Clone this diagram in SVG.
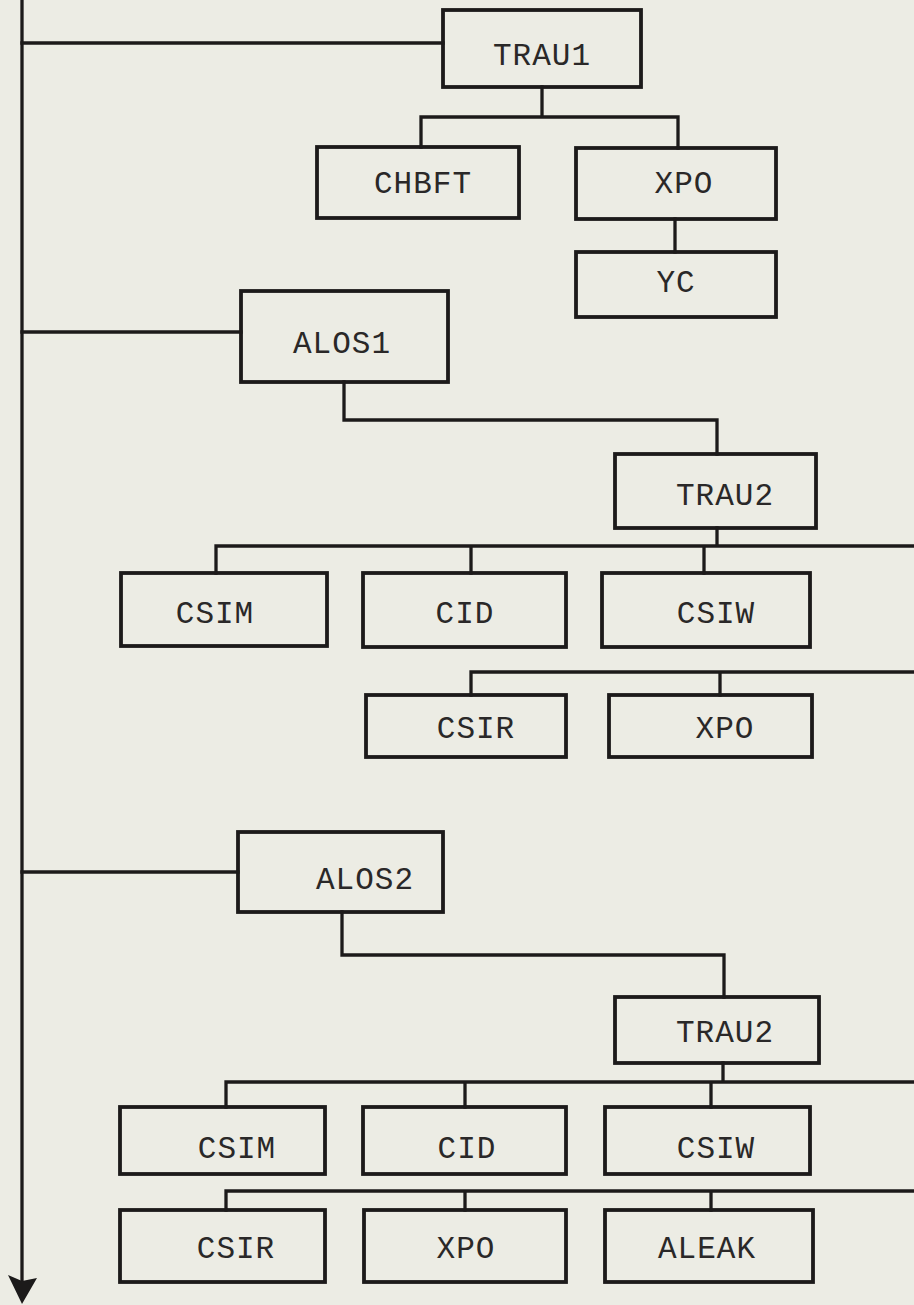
<svg xmlns="http://www.w3.org/2000/svg" width="914" height="1305" viewBox="0 0 914 1305">
<style>
.box{fill:none;stroke:#1c1a1a;stroke-width:3.8}
.ln{fill:none;stroke:#1c1a1a;stroke-width:3.3;stroke-linecap:square}
.t{font-family:"Liberation Mono","DejaVu Sans Mono",monospace;font-size:31px;fill:#2a2828;text-anchor:middle;letter-spacing:1px}
</style>
<rect x="0" y="0" width="914" height="1305" fill="#ecece4"/>
<g id="connectors">
<path class="ln" d="M22,0 V1282"/>
<path d="M8,1275 L22,1281 L37,1278 L22,1304 Z" fill="#1c1a1a"/>
<path class="ln" d="M22,43 H443"/>
<path class="ln" d="M542,87 V117 M421,117 H678 M421,117 V147 M678,117 V148"/>
<path class="ln" d="M675,219 V252"/>
<path class="ln" d="M22,332 H241"/>
<path class="ln" d="M344,382 V420 H717 V454"/>
<path class="ln" d="M717,528 V546 M216,546 H914 M216,546 V573 M471,546 V573 M704,546 V573"/>
<path class="ln" d="M471,672 H914 M471,672 V695 M720,672 V695"/>
<path class="ln" d="M22,872 H238"/>
<path class="ln" d="M342,912 V955 H724 V997"/>
<path class="ln" d="M723,1063 V1082 M226,1082 H914 M226,1082 V1107 M465,1082 V1107 M711,1082 V1107"/>
<path class="ln" d="M226,1191 H914 M226,1191 V1210 M465,1191 V1210 M711,1191 V1210"/>
</g>
<g id="n-trau1"><rect class="box" x="443" y="10" width="198" height="77"/><text class="t" x="542" y="65">TRAU1</text></g>
<g id="n-chbft"><rect class="box" x="317" y="147" width="202" height="71"/><text class="t" x="423" y="193">CHBFT</text></g>
<g id="n-xpo1"><rect class="box" x="576" y="148" width="200" height="71"/><text class="t" x="684" y="193">XPO</text></g>
<g id="n-yc"><rect class="box" x="576" y="252" width="200" height="65"/><text class="t" x="676" y="292">YC</text></g>
<g id="n-alos1"><rect class="box" x="241" y="291" width="207" height="91"/><text class="t" x="342" y="353">ALOS1</text></g>
<g id="n-trau2a"><rect class="box" x="615" y="454" width="201" height="74"/><text class="t" x="725" y="505">TRAU2</text></g>
<g id="n-csim1"><rect class="box" x="121" y="573" width="206" height="73"/><text class="t" x="215" y="623">CSIM</text></g>
<g id="n-cid1"><rect class="box" x="363" y="573" width="203" height="74"/><text class="t" x="465" y="623">CID</text></g>
<g id="n-csiw1"><rect class="box" x="602" y="573" width="208" height="74"/><text class="t" x="716" y="623">CSIW</text></g>
<g id="n-csir1"><rect class="box" x="366" y="695" width="200" height="62"/><text class="t" x="476" y="738">CSIR</text></g>
<g id="n-xpo2"><rect class="box" x="609" y="695" width="203" height="62"/><text class="t" x="725" y="738">XPO</text></g>
<g id="n-alos2"><rect class="box" x="238" y="832" width="205" height="80"/><text class="t" x="365" y="889">ALOS2</text></g>
<g id="n-trau2b"><rect class="box" x="615" y="997" width="204" height="66"/><text class="t" x="725" y="1042">TRAU2</text></g>
<g id="n-csim2"><rect class="box" x="120" y="1107" width="205" height="67"/><text class="t" x="237" y="1158">CSIM</text></g>
<g id="n-cid2"><rect class="box" x="363" y="1107" width="203" height="67"/><text class="t" x="467" y="1158">CID</text></g>
<g id="n-csiw2"><rect class="box" x="605" y="1107" width="205" height="67"/><text class="t" x="716" y="1158">CSIW</text></g>
<g id="n-csir2"><rect class="box" x="120" y="1210" width="205" height="72"/><text class="t" x="236" y="1258">CSIR</text></g>
<g id="n-xpo3"><rect class="box" x="364" y="1210" width="202" height="72"/><text class="t" x="466" y="1258">XPO</text></g>
<g id="n-aleak"><rect class="box" x="605" y="1210" width="208" height="72"/><text class="t" x="707" y="1258">ALEAK</text></g>
</svg>
